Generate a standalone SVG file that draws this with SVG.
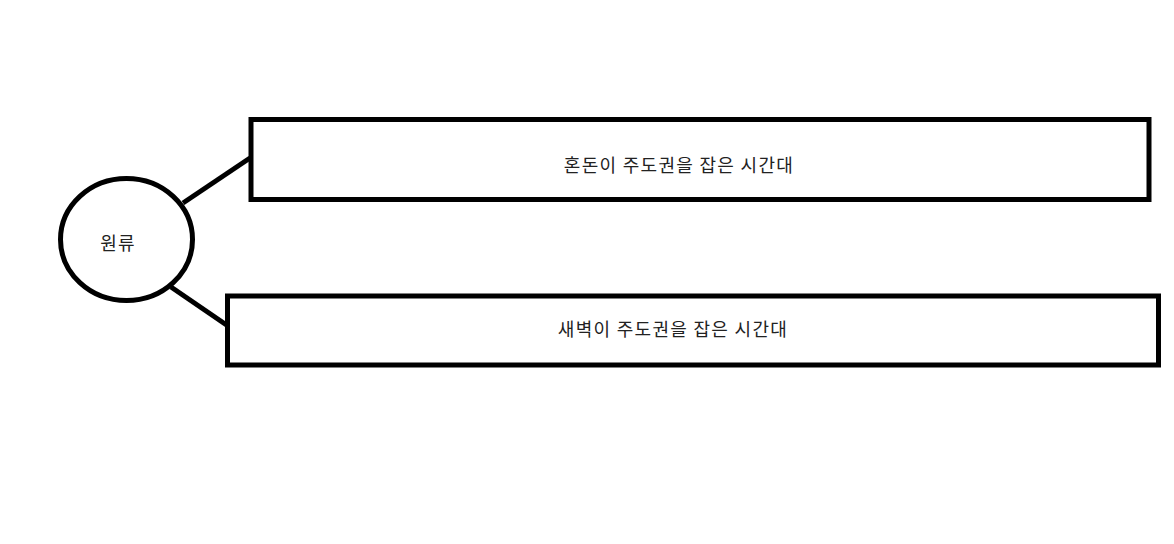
<svg xmlns="http://www.w3.org/2000/svg" width="1174" height="544" viewBox="0 0 1174 544">
<style>
.s{fill:none;stroke:#000;stroke-width:5}
.t{font-family:"Noto Sans CJK KR","Noto Sans",sans-serif;font-size:18px;letter-spacing:1.3px;fill:#222;text-anchor:middle;dominant-baseline:central}
</style>
<rect width="1174" height="544" fill="#fff"/>
<g id="connectors">
<line class="s" x1="183" y1="203" x2="250" y2="158"/>
<line class="s" x1="171" y1="287" x2="228" y2="326"/>
</g>
<g id="root">
<ellipse class="s" cx="126.5" cy="239.5" rx="66" ry="61"/>
<text class="t" x="118" y="242">원류</text>
</g>
<g id="chaos">
<rect class="s" x="251" y="119.5" width="898" height="80"/>
<text class="t" x="679" y="164">혼돈이 주도권을 잡은 시간대</text>
</g>
<g id="dawn">
<rect class="s" x="227.5" y="296" width="931" height="69"/>
<text class="t" x="673" y="328">새벽이 주도권을 잡은 시간대</text>
</g>
</svg>
